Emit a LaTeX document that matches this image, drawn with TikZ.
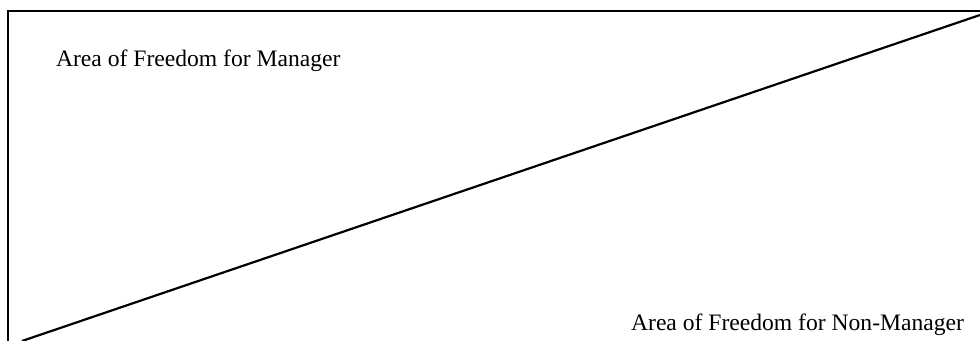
\documentclass[tikz,border=0pt]{standalone}
\usepackage{fontspec}
\setmainfont{Liberation Serif}
\begin{document}
\begin{tikzpicture}[x=0.5pt, y=-0.5pt, line width=1.1pt,
    area label/.style={anchor=base west, inner sep=0pt, font=\fontsize{11.8}{14}\selectfont}]
    % Page in pixel units
    \def\pagew{980}
    \def\pageh{341}
    \useasboundingbox (0,0) rectangle (\pagew,\pageh);

    % Frame: only top and left edges stay on the page
    \coordinate (topright) at (\pagew,11);
    \coordinate (topleft) at (8,11);
    \coordinate (bottomleft) at (8,\pageh);
    \draw (topright) -- (topleft) -- (bottomleft);

    % Dividing line between the two areas
    \coordinate (lowend) at (22,\pageh);
    \coordinate (highend) at (\pagew,15);
    \draw (lowend) -- (highend);

    \node[area label] (manager) at (55,67) {Area of Freedom for Manager};
    \node[area label] (nonmanager) at (630,331) {Area of Freedom for Non-Manager};
\end{tikzpicture}
\end{document}
